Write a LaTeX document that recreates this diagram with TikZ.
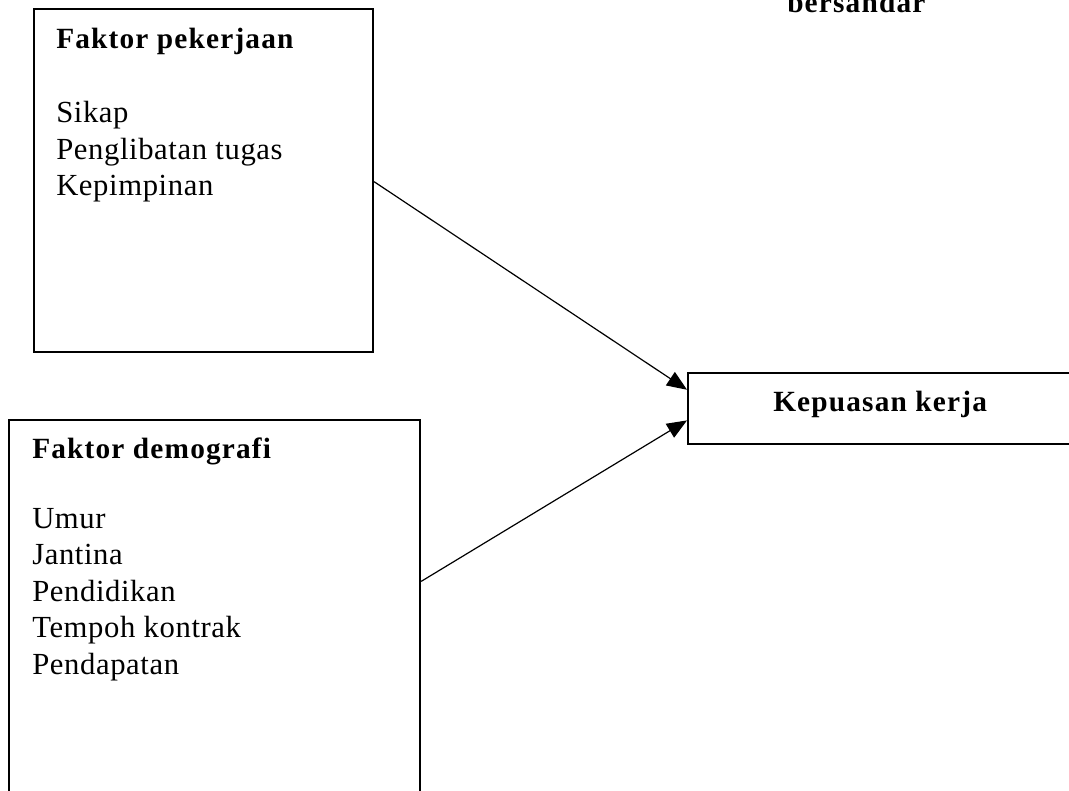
\documentclass[tikz,border=0pt]{standalone}
\usepackage{fontspec}
\setmainfont{Liberation Serif}
\usetikzlibrary{arrows.meta,positioning}

\begin{document}
\begin{tikzpicture}[x=0.75pt,y=-0.75pt,
    kotak/.style={draw, line width=1.6pt, inner sep=0pt, anchor=north west},
    tajuk/.style={anchor=base west, inner sep=0pt, font=\fontsize{22}{26}\selectfont\bfseries\addfontfeature{LetterSpace=4}},
    senarai/.style={anchor=north west, inner sep=0pt, align=left, font=\fontsize{23}{27.4}\selectfont\addfontfeature{LetterSpace=2}},
    anak/.style={-{Triangle[length=15pt,width=12pt]}, line width=0.9pt}]
    \useasboundingbox (0,0) rectangle (1069,791);
    \node[kotak, minimum width=254.25pt, minimum height=257pt] (pekerjaan) at (33,8) {};
    \node[kotak, minimum width=308.25pt, minimum height=286pt] (demografi) at (8,419) {};
    \node[kotak, minimum width=292pt, minimum height=53pt] (kepuasan) at (687,372) {};
    \node[tajuk] (tajukA) at (56,49) {Faktor pekerjaan};
    \node[senarai] (senaraiA) at (56,101) {Sikap\\Penglibatan tugas\\Kepimpinan};
    \node[tajuk] (tajukB) at (32,458) {Faktor demografi};
    \node[senarai] (senaraiB) at (32,508) {Umur\\Jantina\\Pendidikan\\Tempoh kontrak\\Pendapatan};
    \node[tajuk] (tajukC) at (773,411) {Kepuasan kerja};
    \node[tajuk] (bersandar) at (787,13) {bersandar};
    \draw[anak] ([yshift=-1pt]pekerjaan.east) -- ([yshift=14pt]kepuasan.west);
    \draw[anak] ([yshift=22pt]demografi.east) -- ([yshift=-9pt]kepuasan.west);
  \end{tikzpicture}
\end{document}
